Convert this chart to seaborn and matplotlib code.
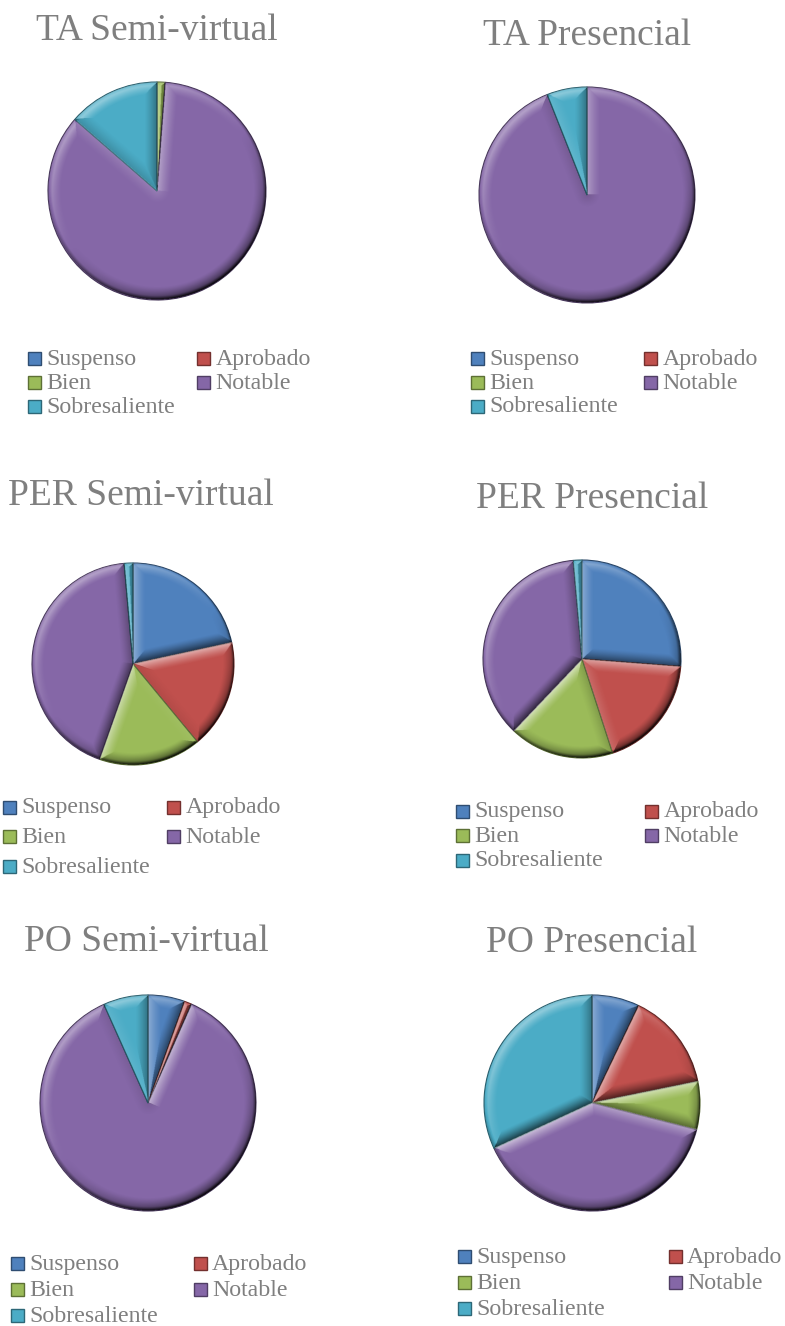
import numpy as np
import matplotlib
matplotlib.use("Agg")
import matplotlib.pyplot as plt
import seaborn as sns
from matplotlib.patches import Rectangle, Circle
from matplotlib.colors import to_rgb

# Grade categories and their share (%) in each group
categories = ["Suspenso", "Aprobado", "Bien", "Notable", "Sobresaliente"]
titles = ["TA Semi-virtual", "TA Presencial",
          "PER Semi-virtual", "PER Presencial",
          "PO Semi-virtual", "PO Presencial"]
ta_semivirtual = [0.0, 0.0, 1.2, 85.2, 13.6]
ta_presencial = [0.0, 0.0, 0.0, 94.0, 6.0]
per_semivirtual = [21.6, 17.4, 16.4, 43.2, 1.4]
per_presencial = [26.2, 18.8, 17.1, 36.5, 1.4]
po_semivirtual = [5.5, 1.1, 0.0, 86.7, 6.7]
po_presencial = [7.1, 14.7, 7.2, 39.1, 31.9]
series = [ta_semivirtual, ta_presencial, per_semivirtual,
          per_presencial, po_semivirtual, po_presencial]

sns.set_theme(style="white")
plt.rcParams["font.family"] = ["Liberation Serif", "DejaVu Serif"]
palette = sns.color_palette(["#4F81BD", "#C0504D", "#9BBB59", "#8567A7", "#4BACC6"])
TEXT = "#7f7f7f"

W, H = 785, 1326
fig = plt.figure(figsize=(W / 100, H / 100), dpi=100)
fig.patch.set_facecolor("white")

# layout in pixels (from the top-left corner of the figure)
pie_center = [(157, 191), (587, 195), (133, 664), (582, 659), (148, 1103), (592, 1103)]
pie_radius = [109, 108, 101, 99, 108, 108]
title_pos = [(157, 31), (587, 36), (141, 496), (592, 499), (146, 942), (592, 943)]
legend_first = [(28, 358.5), (471, 358), (3, 807), (456, 811), (11, 1263.5), (458, 1256.5)]
legend_col2 = [197, 644, 167, 645, 193.5, 668.5]
legend_step = [24.2, 24.0, 29.7, 24.5, 26.2, 25.8]

LIM = 1.03


def darker(c, f=0.65):
    r, g, b = to_rgb(c)
    return (r * f, g * f, b * f)


def bevel(ax, wedges, width=0.12, n=520):
    """Shade a bevel along each wedge's borders, lit from the upper left."""
    g = np.linspace(-LIM, LIM, n)
    X, Y = np.meshgrid(g, g[::-1])
    R = np.hypot(X, Y)
    A = np.degrees(np.arctan2(Y, X)) % 360
    light = np.array([-0.55, 0.83])
    light /= np.linalg.norm(light)
    value = np.zeros_like(R)
    Rs = np.maximum(R, 1e-9)
    for w in wedges:
        if not w.get_visible():
            continue
        t1, t2 = w.theta1, w.theta2
        span = t2 - t1
        if span >= 359.9:
            inside = R <= 1
        else:
            inside = (((A - t1) % 360) <= span) & (R <= 1)
        d_best = 1 - R
        nx, ny = X / Rs, Y / Rs
        if span < 359.9:
            for ang, first in ((t1, True), (t2, False)):
                ux, uy = np.cos(np.radians(ang)), np.sin(np.radians(ang))
                along = X * ux + Y * uy
                d = np.where(along >= 0, np.abs(ux * Y - uy * X), R)
                mx, my = (uy, -ux) if first else (-uy, ux)
                closer = d < d_best
                d_best = np.where(closer, d, d_best)
                nx = np.where(closer, mx, nx)
                ny = np.where(closer, my, ny)
        t = np.clip(1 - d_best / width, 0, 1) ** 1.3
        s = nx * light[0] + ny * light[1]
        v = np.where(s > 0, 0.6 * s * t, 0.65 * s * t)
        value[inside] = v[inside]
    rim = np.clip(1 - (1 - R) / 0.035, 0, 1)
    value = value - 0.4 * rim * (R <= 1)
    rgba = np.zeros(R.shape + (4,))
    rgba[..., :3] = np.where(value[..., None] > 0, 1.0, 0.0)
    rgba[..., 3] = np.clip(np.abs(value), 0, 1) * (R <= 1.0)
    im = ax.imshow(rgba, extent=(-LIM, LIM, -LIM, LIM), interpolation="bilinear",
                   zorder=3)
    im.set_clip_path(Circle((0, 0), 1.0, transform=ax.transData))


for i, vals in enumerate(series):
    cx, cy = pie_center[i]
    r = pie_radius[i] * LIM
    ax = fig.add_axes([(cx - r) / W, 1 - (cy + r) / H, 2 * r / W, 2 * r / H])
    wedges, _ = ax.pie(vals, colors=palette, startangle=90, counterclock=False,
                       radius=1.0, wedgeprops=dict(linewidth=0.8))
    for w, v, c in zip(wedges, vals, palette):
        w.set_edgecolor(darker(c, 0.55))
        if v <= 0:
            w.set_visible(False)
    ax.set_xlim(-LIM, LIM)
    ax.set_ylim(-LIM, LIM)
    ax.set_aspect("equal")
    ax.axis("off")
    bevel(ax, wedges)

    tx, ty = title_pos[i]
    fig.text(tx / W, 1 - ty / H, titles[i], ha="center", va="center",
             fontsize=27, color=TEXT)

    # legend, filled row by row in two columns
    x0, y0 = legend_first[i]
    for k, (name, c) in enumerate(zip(categories, palette)):
        row, col = divmod(k, 2)
        mx = x0 if col == 0 else legend_col2[i]
        my = y0 + row * legend_step[i]
        size = 13
        fig.add_artist(Rectangle((mx / W, 1 - (my + size / 2) / H), size / W, size / H,
                                 transform=fig.transFigure, facecolor=c,
                                 edgecolor=darker(c, 0.6), linewidth=1.0))
        fig.text((mx + 18.5) / W, 1 - (my + 6.5) / H, name, ha="left", va="baseline",
                 fontsize=17.2, color=TEXT)

fig.savefig("out.png", dpi=100, facecolor="white")
